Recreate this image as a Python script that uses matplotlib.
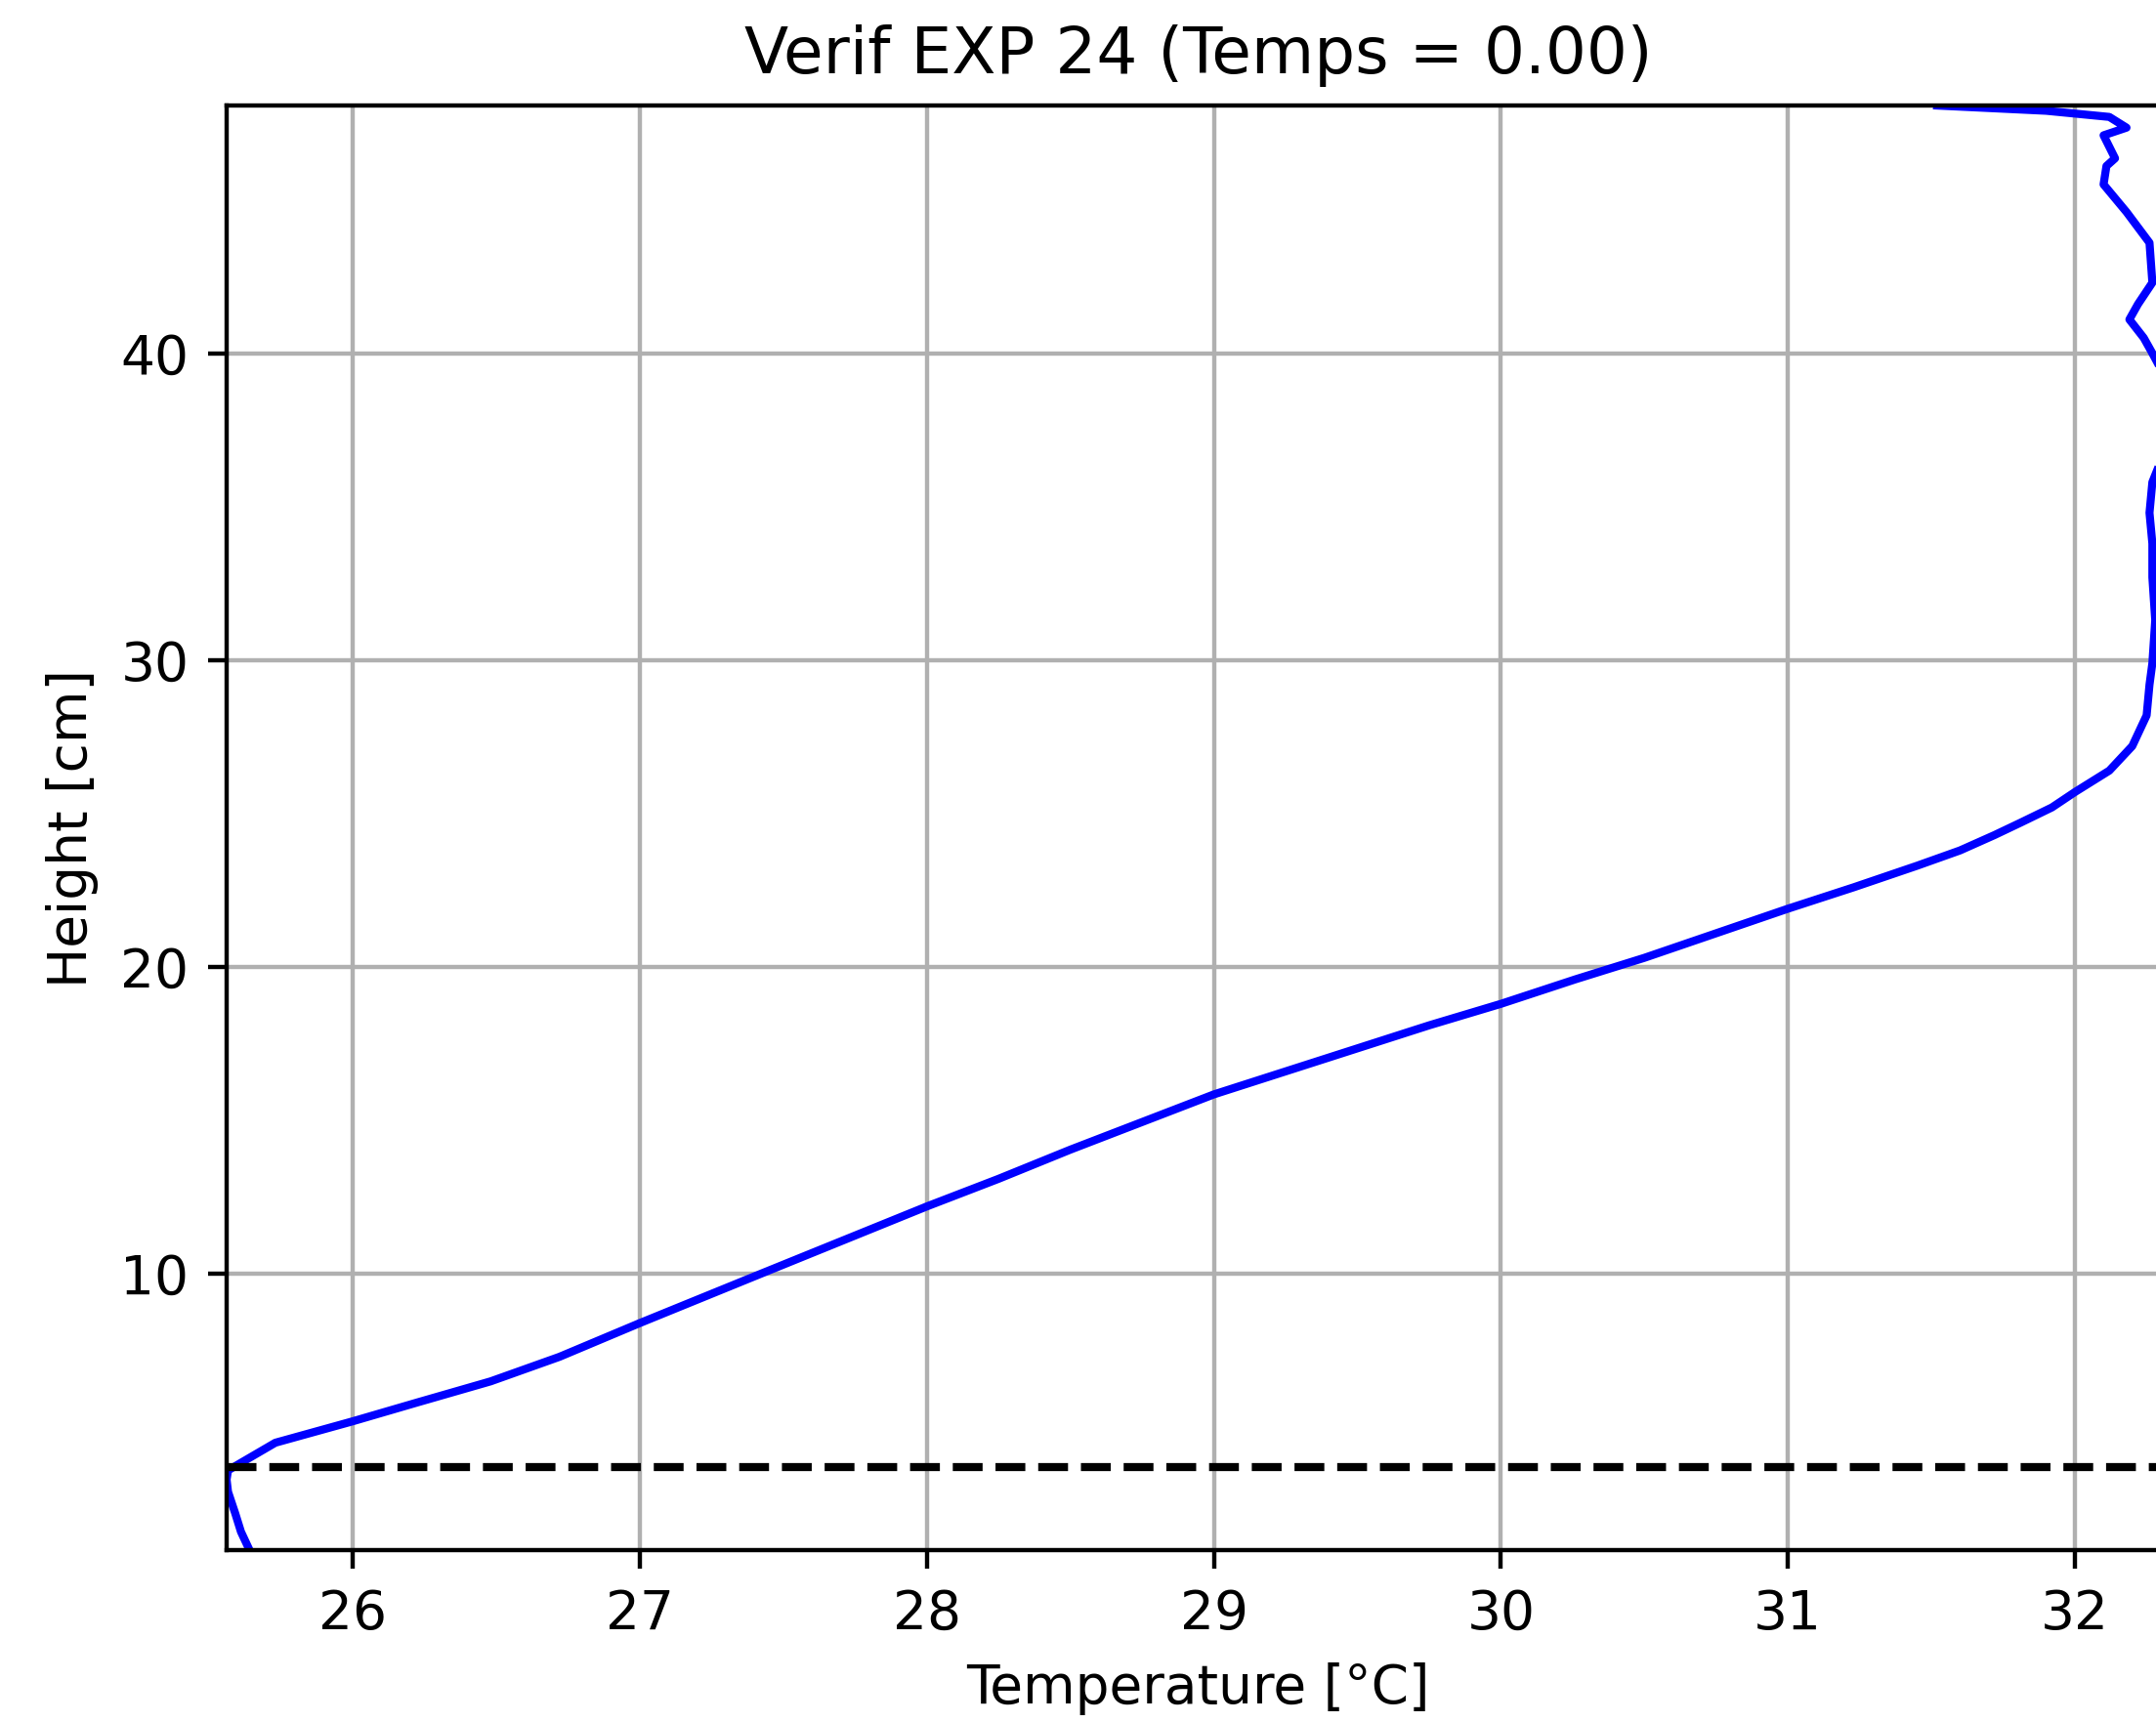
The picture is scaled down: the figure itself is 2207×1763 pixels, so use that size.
import matplotlib
matplotlib.use("Agg")
import matplotlib.pyplot as plt

# Temperature profile
height = [1.0, 1.6, 2.2, 2.9, 3.3, 3.6, 3.9, 4.5, 5.2, 5.8, 6.5, 7.3, 8.4,
          10.0, 11.1, 12.2, 13.1, 14.05, 14.95, 15.85, 16.6, 17.35, 18.1,
          18.8, 19.6, 20.3, 21.1, 21.9, 22.6, 23.3, 23.8, 24.3, 24.7, 25.2,
          25.7, 26.4, 27.2, 28.2, 29.2, 29.9, 31.3, 32.7, 33.8, 34.8, 35.8,
          36.5, 37.5, 38.5, 39.3, 40.0, 40.5, 41.1, 41.6, 42.3, 43.6, 44.6,
          45.5, 46.1, 46.35, 47.1, 47.35, 47.7, 47.9, 48.07]
temp = [25.64, 25.61, 25.59, 25.565, 25.56, 25.565, 25.62, 25.73, 26.0, 26.22,
        26.48, 26.72, 27.0, 27.42, 27.71, 28.0, 28.25, 28.5, 28.75, 29.0,
        29.25, 29.5, 29.75, 30.0, 30.26, 30.5, 30.75, 31.0, 31.23, 31.45,
        31.6, 31.72, 31.81, 31.92, 32.0, 32.12, 32.20, 32.25, 32.26, 32.27,
        32.28, 32.27, 32.27, 32.26, 32.27, 32.30, 32.32, 32.33, 32.31, 32.27,
        32.24, 32.19, 32.22, 32.27, 32.26, 32.18, 32.10, 32.11, 32.14, 32.10,
        32.18, 32.12, 31.9, 31.52]
interface = 3.72

dpi = 396
fig = plt.figure(figsize=(2207 / dpi, 1763 / dpi), dpi=dpi)
# the original figure is cut off on the right, so the axes run past the edge
ax = fig.add_axes([0.1051, 0.0998, 0.9012, 0.8389])

ax.plot(temp, height, color='b')
ax.axhline(interface, color='black', linestyle='--')

ax.set_xlim(min(temp), max(temp))
ax.set_ylim(min(height), max(height))
ax.set_xticks([26, 27, 28, 29, 30, 31, 32])
ax.set_yticks([10, 20, 30, 40])
ax.grid(True)

ax.set_xlabel('Temperature [°C]')
ax.set_ylabel('Height [cm]')
ax.set_title('Verif EXP 24 (Temps = 0.00)')

fig.savefig('out.png', dpi=dpi)
